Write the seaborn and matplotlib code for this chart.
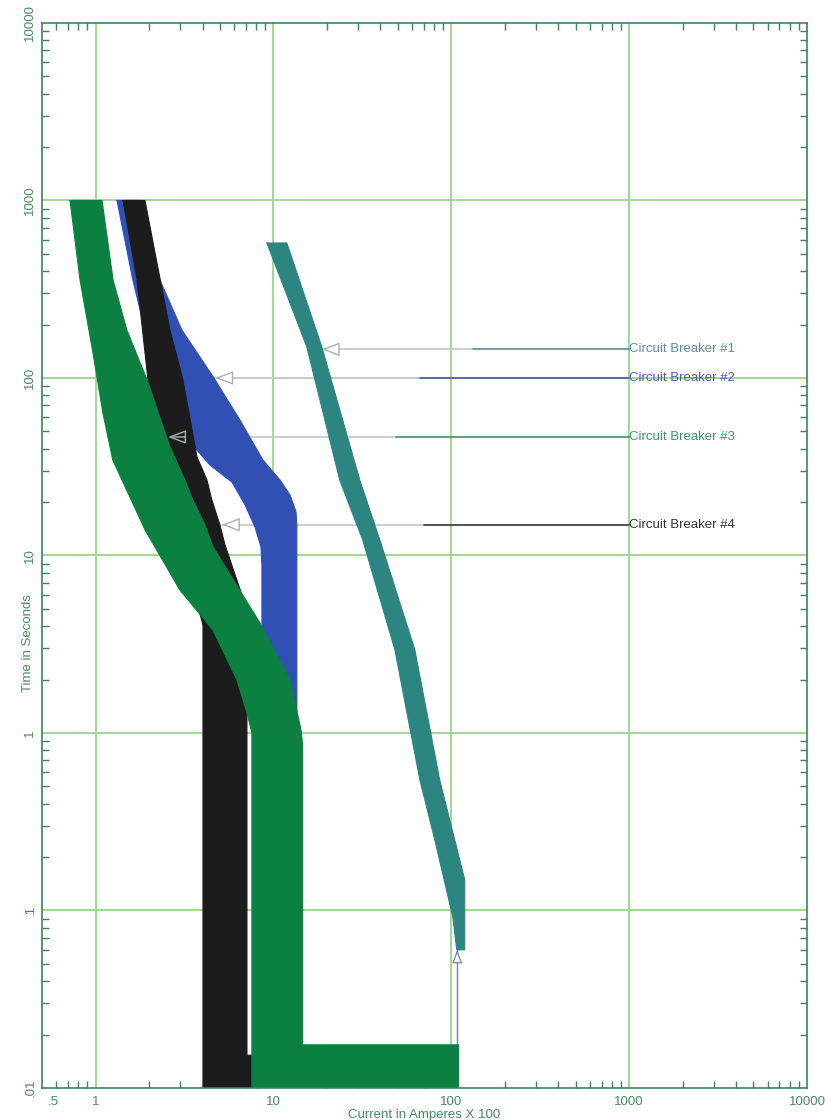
import numpy as np
import pandas as pd
import matplotlib
matplotlib.use("Agg")
import matplotlib.pyplot as plt
from matplotlib.ticker import FixedLocator, FixedFormatter, LogLocator, NullFormatter
import matplotlib.transforms as mtransforms
import seaborn as sns

sns.set_style("white")
plt.rcParams["font.family"] = ["Liberation Sans", "DejaVu Sans"]

# ---- trip bands: minimum (left) and maximum (right) curves ----
# current in amperes x 100, time in seconds
cb1_min_current = [9.19, 15.4, 23.6, 31.8, 48.2, 66.6, 80.8, 102, 107.4]
cb1_min_time = [576, 150, 26.6, 12.2, 2.94, 0.544, 0.25, 0.092, 0.06]
cb1_max_current = [11.9, 18.7, 30.6, 39.7, 62.4, 86.1, 104.6, 119, 119]
cb1_max_time = [576, 150, 26.6, 12.2, 2.94, 0.544, 0.25, 0.149, 0.06]

cb2_min_current = [1.32, 1.62, 2.02, 2.56, 3.31, 4.40, 5.85, 6.92, 7.87, 8.51, 8.62, 8.62]
cb2_min_time = [1000, 357, 144, 75.2, 44.8, 32.3, 25.9, 19.3, 14.5, 11.2, 8.84, 0.856]
cb2_max_current = [1.78, 2.02, 2.30, 3.06, 4.63, 6.48, 8.73, 10.9, 12.4, 13.4, 13.55, 13.55]
cb2_max_time = [1000, 599, 357, 186, 100, 58, 34.5, 26.6, 21.9, 17.6, 14.9, 0.856]

cb3_min_current = [0.719, 0.818, 0.968, 1.10, 1.25, 1.90, 2.98, 4.57, 6.24, 7.10, 7.57, 7.57]
cb3_min_time = [1000, 357, 138, 63.5, 34.5, 13.9, 6.39, 3.80, 1.99, 1.30, 1.0, 0.01]
cb3_max_current = [1.088, 1.254, 1.50, 1.95, 2.62, 3.18, 3.53, 4.12, 4.57, 8.40, 12.4, 14.3, 14.6, 14.6, 110, 110]
cb3_max_time = [1000, 357, 186, 97.4, 40.9, 26.6, 20.5, 14.9, 11.2, 4.17, 1.99, 1.04, 0.856, 0.0175, 0.0175, 0.01]

cb4_min_current = [1.427, 1.711, 1.972, 2.159, 2.796, 3.62, 4.018, 4.018]
cb4_min_time = [1000, 357, 97.4, 34.5, 12.2, 5.99, 4.06, 0.01]
cb4_max_current = [1.897, 2.216, 2.621, 3.101, 3.717, 4.231, 4.51, 5.00, 5.34, 7.10, 7.10, 7.57, 7.57]
cb4_max_time = [1000, 444, 186, 97.4, 35.9, 26.6, 20.5, 14.9, 11.5, 4.93, 0.0153, 0.0153, 0.01]

# ---- breaker labels and leader lines ----
breaker_names = ["Circuit Breaker #1", "Circuit Breaker #2", "Circuit Breaker #3", "Circuit Breaker #4"]
label_time = [145, 100, 46.5, 14.9]
label_current = 1000
arrow_tip_current = [18.7, 4.71, 2.56, 5.14]
leader_split_current = [132, 66.5, 49.2, 70.3]

# marker pointing at the instantaneous tip of breaker #1
tip_marker_current = 108
tip_marker_time = [0.01, 0.06]

# ---- axis ticks ----
x_major = [0.5, 1, 10, 100, 1000, 10000]
x_major_labels = [".5", "1", "10", "100", "1000", "10000"]
y_major = [0.01, 0.1, 1, 10, 100, 1000, 10000]
y_major_labels = [".01", ".1", "1", "10", "100", "1000", "10000"]

# ---- styling ----
band_colors = {"cb1": "#2c8580", "cb2": "#3050b4", "cb3": "#0b8040", "cb4": "#1c1c1c"}
draw_order = ["cb2", "cb4", "cb3", "cb1"]
text_colors = ["#5b8f98", "#4a5ab0", "#3d9460", "#333333"]
leader_colors = ["#4f7f88", "#3a4fb0", "#2f8a55", "#222222"]
head_faces = ["white", "white", "none", "white"]
light_leader = "#c5cccc"
grid_color = "#9ad68a"
frame_color = "#3f8063"
tick_text = "#4a8a5f"

bands = {
    "cb1": (cb1_min_current, cb1_min_time, cb1_max_current, cb1_max_time),
    "cb2": (cb2_min_current, cb2_min_time, cb2_max_current, cb2_max_time),
    "cb3": (cb3_min_current, cb3_min_time, cb3_max_current, cb3_max_time),
    "cb4": (cb4_min_current, cb4_min_time, cb4_max_current, cb4_max_time),
}

# outline of each band as a closed polygon: min curve downwards, max curve back up
rows = []
for key, (mc, mt, xc, xt) in bands.items():
    cur = list(mc) + list(xc[::-1]) + [mc[0]]
    tim = list(mt) + list(xt[::-1]) + [mt[0]]
    for i, (c, t) in enumerate(zip(cur, tim)):
        rows.append({"breaker": key, "order": i, "current": c, "time": t})
outline = pd.DataFrame(rows)

fig = plt.figure(figsize=(8.4, 11.2), dpi=100)
ax = fig.add_axes([0.05, 0.0286, 0.9107, 0.9509])
ax.set_xscale("log")
ax.set_yscale("log")
ax.set_xlim(0.5, 10000)
ax.set_ylim(0.01, 10000)

# grid at decades
for v in [1, 10, 100, 1000]:
    ax.axvline(v, color=grid_color, lw=1.3, zorder=0.5)
for v in [0.1, 1, 10, 100, 1000]:
    ax.axhline(v, color=grid_color, lw=1.3, zorder=0.5)

# leader lines (beneath the bands)
for i in range(4):
    t = label_time[i]
    ax.plot([arrow_tip_current[i], leader_split_current[i]], [t, t], color=light_leader, lw=1.3, zorder=1)
    ax.plot([leader_split_current[i], label_current], [t, t], color=leader_colors[i], lw=1.1, zorder=1.1)
    ax.text(label_current, t, breaker_names[i], color=text_colors[i], fontsize=9.5,
            ha="left", va="center", zorder=6)

ax.plot([tip_marker_current, tip_marker_current], tip_marker_time, color="#6a8aa0", lw=1.0, zorder=1)

# bands, each drawn fully above the previous one
for k, key in enumerate(draw_order):
    z = 2 + k * 0.5
    sub = outline[outline["breaker"] == key].sort_values("order")
    ax.fill(sub["current"], sub["time"], color=band_colors[key], lw=0, zorder=z)
    sns.lineplot(data=sub, x="current", y="time", sort=False, estimator=None,
                 color=band_colors[key], lw=0.8, ax=ax, zorder=z + 0.1)

# hollow arrow heads
for i in range(4):
    ax.annotate("", xy=(arrow_tip_current[i], label_time[i]), xytext=(12, 0),
                textcoords="offset points",
                arrowprops=dict(arrowstyle="-|>,head_length=1.1,head_width=0.42",
                                fc=head_faces[i], ec="#a8b0b4", lw=1.0,
                                shrinkA=0, shrinkB=0, mutation_scale=10),
                zorder=5)
ax.annotate("", xy=(tip_marker_current, tip_marker_time[1]), xytext=(0, -8),
            textcoords="offset points",
            arrowprops=dict(arrowstyle="-|>,head_length=0.8,head_width=0.3",
                            fc="white", ec="#6a8aa0", lw=0.9,
                            shrinkA=0, shrinkB=0, mutation_scale=10),
            zorder=5)

# axes frame and ticks
for s in ax.spines.values():
    s.set_color(frame_color)
    s.set_linewidth(1.2)
    s.set_zorder(7)

ax.xaxis.set_major_locator(FixedLocator(x_major))
ax.xaxis.set_major_formatter(FixedFormatter(x_major_labels))
ax.yaxis.set_major_locator(FixedLocator(y_major))
ax.yaxis.set_major_formatter(FixedFormatter(y_major_labels))
ax.xaxis.set_minor_locator(LogLocator(base=10, subs=np.arange(2, 10)))
ax.yaxis.set_minor_locator(LogLocator(base=10, subs=np.arange(2, 10)))
ax.xaxis.set_minor_formatter(NullFormatter())
ax.yaxis.set_minor_formatter(NullFormatter())

ax.tick_params(which="both", direction="in", top=True, right=True, bottom=True, left=True,
               color=frame_color, width=1.0)
ax.tick_params(which="major", length=0)
ax.tick_params(which="minor", length=5)
ax.tick_params(axis="x", which="major", labelsize=9.5, labelcolor=tick_text, pad=6)
ax.tick_params(axis="y", which="major", labelsize=9.5, labelcolor=tick_text, pad=4, labelrotation=90)
for lab in ax.get_yticklabels():
    lab.set_va("center")

first = ax.get_xticklabels()[0]
first.set_transform(first.get_transform() + mtransforms.ScaledTranslation(11 / 100, 0, fig.dpi_scale_trans))

ax.set_xlabel("Current in Amperes X 100", fontsize=9.5, color=tick_text)
ax.set_ylabel("Time in Seconds", fontsize=9.5, color=tick_text)
ax.xaxis.set_label_coords(0.5, -0.0195)
ax.yaxis.set_label_coords(-0.011, 0.418)

ax.grid(False)
fig.savefig("out.png", dpi=100, facecolor="white")
